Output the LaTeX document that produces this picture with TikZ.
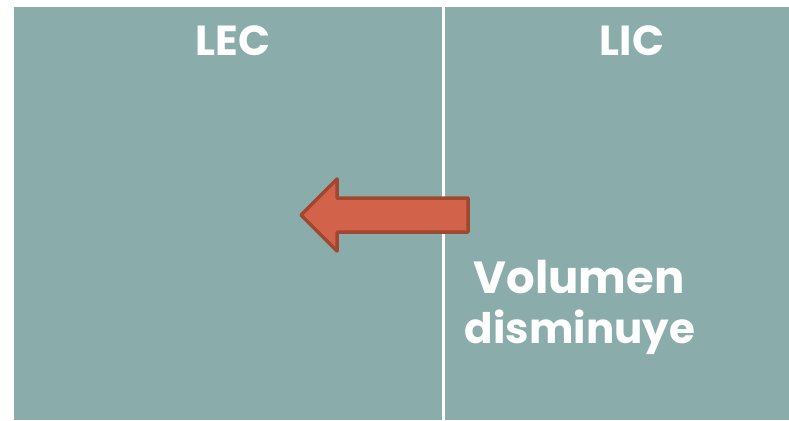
\documentclass[tikz,border=0pt]{standalone}
\usepackage{fontspec}
\setmainfont{Poppins}
\definecolor{panel}{HTML}{8AACAB}
\definecolor{arrowfill}{HTML}{D2634A}
\definecolor{arrowline}{HTML}{A0472F}
\tikzset{
  label/.style={text=white, font=\bfseries, inner sep=0pt, anchor=base},
}
\begin{document}
\begin{tikzpicture}[x=1pt,y=-1pt]
  \useasboundingbox (0,0) rectangle (789,420);
  % background panel
  \fill[panel] (14,7) rectangle (789,420);
  % divider between the two compartments
  \fill[white] (442,7) rectangle (445,420);
  % arrow pointing left
  \draw[arrowline, fill=arrowfill, line width=3.5pt, line join=round]
    (301,215) -- (337,179) -- (337,198) -- (468,198) -- (468,232)
    -- (337,232) -- (337,251) -- cycle;
  % titles
  \node[label, font=\bfseries\fontsize{42}{42}\selectfont] (lec) at (233,56) {LEC};
  \node[label, font=\bfseries\fontsize{42}{42}\selectfont] (lic) at (632,56) {LIC};
  % note
  \node[label, font=\bfseries\fontsize{45}{45}\selectfont] (vol) at (579,293) {Volumen};
  \node[label, font=\bfseries\fontsize{42}{42}\selectfont] (dis) at (580,343) {disminuye};
\end{tikzpicture}
\end{document}
